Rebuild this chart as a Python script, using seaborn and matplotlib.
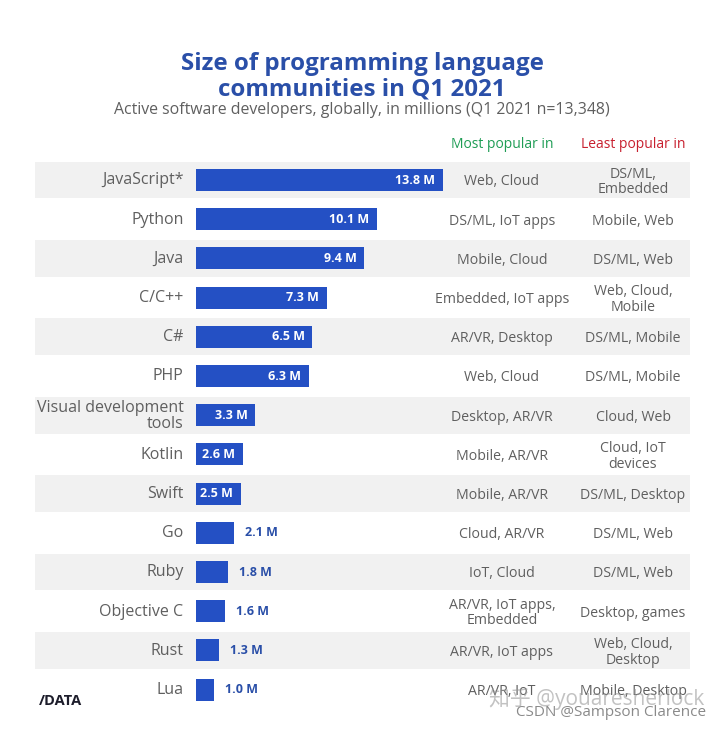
import matplotlib
matplotlib.use("Agg")
import matplotlib.pyplot as plt
from matplotlib.transforms import ScaledTranslation
import pandas as pd
import seaborn as sns

languages = ["JavaScript*", "Python", "Java", "C/C++", "C#", "PHP", "Visual development\ntools",
             "Kotlin", "Swift", "Go", "Ruby", "Objective C", "Rust", "Lua"]
developers = [13.8, 10.1, 9.4, 7.3, 6.5, 6.3, 3.3, 2.6, 2.5, 2.1, 1.8, 1.6, 1.3, 1.0]
most_popular = ["Web, Cloud", "DS/ML, IoT apps", "Mobile, Cloud", "Embedded, IoT apps", "AR/VR, Desktop",
                "Web, Cloud", "Desktop, AR/VR", "Mobile, AR/VR", "Mobile, AR/VR", "Cloud, AR/VR",
                "IoT, Cloud", "AR/VR, IoT apps,\nEmbedded", "AR/VR, IoT apps", "AR/VR, IoT"]
least_popular = ["DS/ML,\nEmbedded", "Mobile, Web", "DS/ML, Web", "Web, Cloud,\nMobile", "DS/ML, Mobile",
                 "DS/ML, Mobile", "Cloud, Web", "Cloud, IoT\ndevices", "DS/ML, Desktop", "DS/ML, Web",
                 "DS/ML, Web", "Desktop, games", "Web, Cloud,\nDesktop", "Mobile, Desktop"]

BLUE = "#2450c4"
NAVY = "#2a4fa8"
GREY = "#5f5f5f"
W, H = 720, 729
sns.set_theme(style="white")
plt.rcParams["font.family"] = ["Open Sans", "Noto Sans CJK SC", "DejaVu Sans"]

fig = plt.figure(figsize=(W / 100, H / 100), dpi=100, facecolor="white")
L, R, T0, ROW = 196, 690, 180, 39.2
ax = fig.add_axes([L / W, 0, (R - L) / W, 1])
df = pd.DataFrame({"language": languages, "developers": developers})
sns.barplot(data=df, y="language", x="developers", orient="h", color=BLUE, saturation=1,
            width=22 / ROW, ax=ax, zorder=3, edgecolor="none", linewidth=0)
ax.set_xlim(0, (R - L) / 17.9)
ax.set_ylim((H - T0) / ROW, -T0 / ROW)
ax.set_xlabel(""); ax.set_ylabel("")
ax.set_xticks([])
ax.tick_params(axis="y", length=0, pad=9, labelsize=11.5, labelcolor=GREY)
lift = ScaledTranslation(0, 1.5 / 100, fig.dpi_scale_trans)
for lab in ax.get_yticklabels():
    lab.set_linespacing(1.0)
    lab.set_transform(lab.get_transform() + lift)
for s in ax.spines.values():
    s.set_visible(False)
ax.patch.set_alpha(0)

for i in range(0, len(languages), 2):
    ax.axhspan(i - 0.47, i + 0.47, xmin=(35 - L) / (R - L), xmax=1, color="#f1f1f1", lw=0,
               zorder=0, clip_on=False)

for i, v in enumerate(developers):
    inside = v >= 2.5
    ax.annotate(f"{v:.1f} M", (v, i), xytext=(-5.5 if inside else 8, 0), textcoords="offset points",
                ha="right" if inside else "left", va="center", fontsize=9, fontweight="bold",
                color="white" if inside else NAVY, zorder=4)
    ax.text((502 - L) / 17.9, i + 0.05, most_popular[i], ha="center", va="center", fontsize=10.2,
            color=GREY, linespacing=1.05, zorder=4)
    ax.text((633 - L) / 17.9, i + 0.05, least_popular[i], ha="center", va="center", fontsize=10.2,
            color=GREY, linespacing=1.05, zorder=4)

def ftext(x, y, s, **kw):
    fig.text(x / W, 1 - y / H, s, **kw)

ftext(362, 63.5, "Size of programming language", ha="center", va="center", fontsize=17.4,
      fontweight="bold", color=NAVY)
ftext(362, 89.5, "communities in Q1 2021", ha="center", va="center", fontsize=17.4,
      fontweight="bold", color=NAVY)
ftext(362, 110.5, "Active software developers, globally, in millions (Q1 2021 n=13,348)",
      ha="center", va="center", fontsize=11.4, color=GREY)
ftext(502, 145, "Most popular in", ha="center", va="center", fontsize=10, color="#1f9d55")
ftext(633, 145, "Least popular in", ha="center", va="center", fontsize=10, color="#c8202f")
ftext(39, 701, "/DATA", ha="left", va="center", fontsize=10.5, fontweight="bold", color="#1d1d2b")
ftext(704, 699, "知乎 @youaresherlock", ha="right", va="center", fontsize=15, color="#9a9a9a", alpha=0.6)
ftext(706, 713, "CSDN @Sampson Clarence", ha="right", va="center", fontsize=11, color="#8a8a8a")

fig.savefig("out.png", dpi=100, facecolor="white")
